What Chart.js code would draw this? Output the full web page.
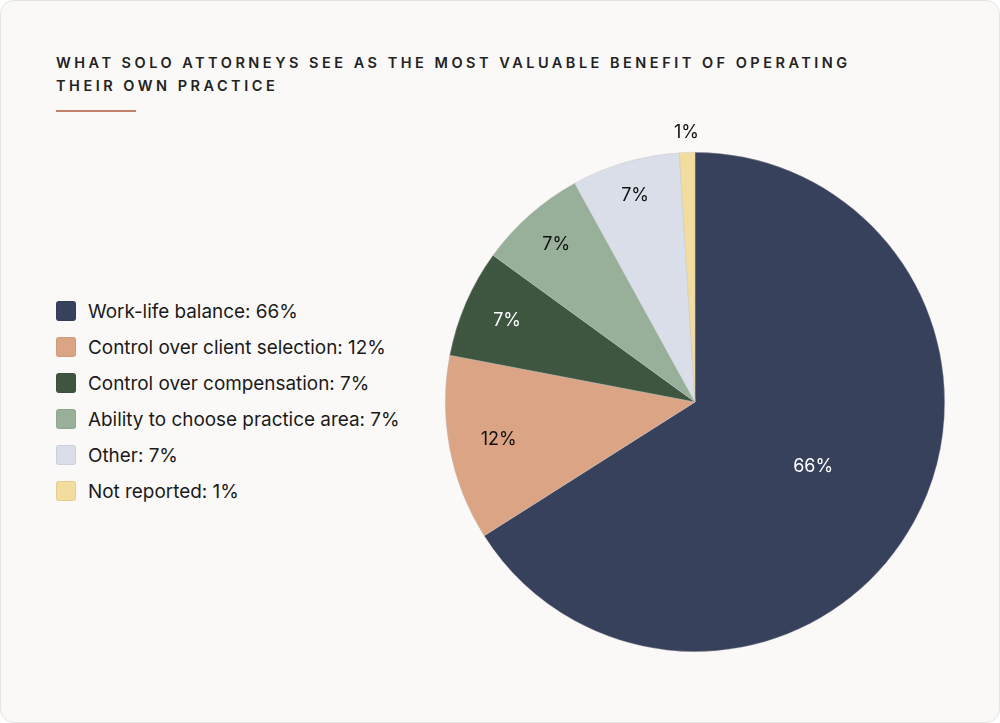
<!DOCTYPE html>
<html><head><meta charset="utf-8">
<script src="https://cdn.jsdelivr.net/npm/chart.js@4.4.0/dist/chart.umd.min.js"></script>
<style>
html,body{margin:0;padding:0;background:#fff;}
body{width:1000px;height:723px;position:relative;overflow:hidden;font-family:Inter,"Noto Sans",sans-serif;}
#card{position:absolute;left:0;top:0;width:998px;height:721px;border:1px solid #e6e4e0;border-radius:14px;background:#faf9f7;}
#title{position:absolute;left:56px;top:51px;font-size:14.5px;font-weight:600;letter-spacing:3.5px;line-height:23px;color:#222;white-space:nowrap;}
#rule{position:absolute;left:56px;top:110px;width:80px;height:2px;background:#c0826a;}
#legend{position:absolute;left:56px;top:301px;}
.li{height:20px;margin-bottom:16px;display:flex;align-items:center;font-size:18.9px;color:#1a1a1a;white-space:nowrap;}
.sw{width:20px;height:20px;border-radius:3px;margin-right:12px;box-sizing:border-box;border:1px solid rgba(0,0,0,0.06);flex:none;}
#wrap{position:absolute;left:393px;top:100px;width:604px;height:604px;}
</style></head>
<body>
<div id="card"></div>
<div id="title">WHAT SOLO ATTORNEYS SEE AS THE MOST VALUABLE BENEFIT OF OPERATING<br>THEIR OWN PRACTICE</div>
<div id="rule"></div>
<div id="legend"></div>
<div id="wrap"><canvas id="c"></canvas></div>
<script>
const categories = ["Work-life balance","Control over client selection","Control over compensation","Ability to choose practice area","Other","Not reported"];
const values = [66,12,7,7,7,1];
const colors = ["#38415c","#dba585","#3e5640","#98b09a","#d9dee9","#f2dc9e"];
const labelColors = ["#ffffff","#111111","#ffffff","#111111","#111111","#111111"];
const labelRadius = [0.54,0.8,0.82,0.84,0.86,1.08];

const lg = document.getElementById('legend');
categories.forEach((c,i)=>{
  const d=document.createElement('div');d.className='li';
  const s=document.createElement('span');s.className='sw';s.style.background=colors[i];
  d.appendChild(s);d.appendChild(document.createTextNode(c+': '+values[i]+'%'));
  lg.appendChild(d);
});

const sliceLabels = {
  id:'sliceLabels',
  afterDatasetsDraw(chart){
    const ctx=chart.ctx;
    const meta=chart.getDatasetMeta(0);
    ctx.save();
    ctx.font='18px Inter, "Noto Sans", sans-serif';
    ctx.textAlign='center';ctx.textBaseline='middle';
    meta.data.forEach((arc,i)=>{
      const p=arc.getProps(['x','y','startAngle','endAngle','outerRadius'],true);
      const mid=(p.startAngle+p.endAngle)/2;
      const r=p.outerRadius*labelRadius[i];
      ctx.fillStyle=labelColors[i];
      ctx.fillText(values[i]+'%', p.x+Math.cos(mid)*r, p.y+Math.sin(mid)*r);
    });
    ctx.restore();
  }
};

new Chart(document.getElementById('c'),{
  type:'pie',
  data:{labels:categories,datasets:[{data:values,backgroundColor:colors,borderColor:'rgba(190,190,190,0.6)',borderWidth:0.6}]},
  options:{
    responsive:true,maintainAspectRatio:false,animation:false,
    layout:{padding:52},
    plugins:{legend:{display:false},tooltip:{enabled:false}}
  },
  plugins:[sliceLabels]
});
</script>
</body></html>
